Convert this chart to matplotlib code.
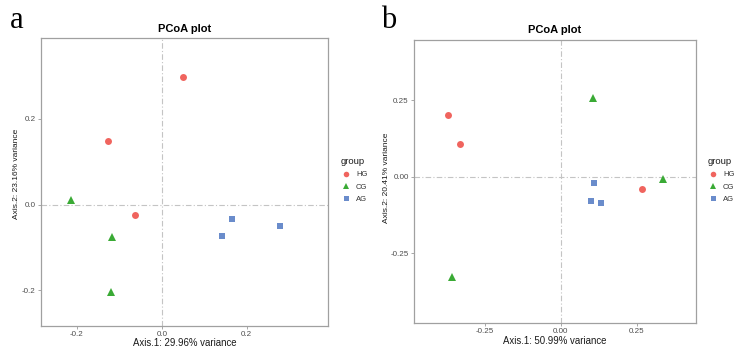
import matplotlib
matplotlib.use("Agg")
import matplotlib.pyplot as plt

plt.rcParams['font.family'] = ['Liberation Sans', 'DejaVu Sans']

groups = ["HG", "CG", "AG"]
colors = ["#F0645E", "#3AAA35", "#6A8CCB"]
markers = ["o", "^", "s"]

# Panel a
a_HG_x = [0.051, -0.127, -0.062]
a_HG_y = [0.298, 0.148, -0.024]
a_CG_x = [-0.213, -0.118, -0.119]
a_CG_y = [0.011, -0.075, -0.203]
a_AG_x = [0.165, 0.142, 0.278]
a_AG_y = [-0.033, -0.074, -0.049]

# Panel b
b_HG_x = [-0.370, -0.330, 0.268]
b_HG_y = [0.203, 0.106, -0.039]
b_CG_x = [0.105, 0.338, -0.359]
b_CG_y = [0.258, -0.008, -0.326]
b_AG_x = [0.109, 0.101, 0.132]
b_AG_y = [-0.021, -0.079, -0.084]

a_xticks = [-0.2, 0.0, 0.2]
a_xticklabels = ["-0.2", "0.0", "0.2"]
a_yticks = [-0.2, 0.0, 0.2]
a_yticklabels = ["-0.2", "0.0", "0.2"]
b_xticks = [-0.25, 0.0, 0.25]
b_xticklabels = ["-0.25", "0.00", "0.25"]
b_yticks = [-0.25, 0.0, 0.25]
b_yticklabels = ["-0.25", "0.00", "0.25"]

a_xlabel = "Axis.1: 29.96% variance"
a_ylabel = "Axis.2: 23.16% variance"
b_xlabel = "Axis.1: 50.99% variance"
b_ylabel = "Axis.2: 20.41% variance"

W, H = 746, 355
fig = plt.figure(figsize=(7.46, 3.55), dpi=100)


def panel(rect, data, xlim, ylim, xticks, xtl, yticks, ytl, xlabel, ylabel,
          letter, letter_pos, leg_anchor, xlab_y, ylab_xy, title_y):
    ax = fig.add_axes(rect)
    ax.axvline(0, color="#c4c4c4", lw=0.8, ls=(0, (5, 2, 1, 2)), zorder=1)
    ax.axhline(0, color="#c4c4c4", lw=0.8, ls=(0, (5, 2, 1, 2)), zorder=1)
    handles = []
    for (xs, ys), g, c, m in zip(data, groups, colors, markers):
        ms = 5.0 if m == "o" else (5.5 if m == "^" else 4.6)
        ax.plot(xs, ys, ls="none", marker=m, color=c, ms=ms, mew=0, zorder=3)
        lms = 4.0 if m == "o" else (4.4 if m == "^" else 3.6)
        h, = ax.plot([], [], ls="none", marker=m, color=c, ms=lms, mew=0, label=g)
        handles.append(h)
    ax.set_xlim(*xlim)
    ax.set_ylim(*ylim)
    ax.set_xticks(xticks)
    ax.set_xticklabels(xtl)
    ax.set_yticks(yticks)
    ax.set_yticklabels(ytl)
    ax.tick_params(labelsize=5.8, labelcolor="#4d4d4d", length=2, width=0.6, pad=1.5, color="#999999")
    for s in ax.spines.values():
        s.set_color("#a0a0a0")
        s.set_linewidth(0.9)
    cx = rect[0] + rect[2] / 2
    fig.text(cx, 1 - xlab_y / H, xlabel, fontsize=6.9, color="#1a1a1a", ha="center", va="center")
    fig.text(ylab_xy[0] / W, 1 - ylab_xy[1] / H, ylabel, fontsize=6.0, color="#1a1a1a",
             ha="center", va="center", rotation=90)
    fig.text(cx, 1 - title_y / H, "PCoA plot", fontsize=8, fontweight="bold",
             ha="center", va="center")
    fig.text(letter_pos[0], letter_pos[1], letter, fontsize=22, family="Liberation Serif",
             va="baseline", ha="left")
    leg = ax.legend(handles=handles, title="group", loc="upper left", bbox_to_anchor=leg_anchor,
                    frameon=False, fontsize=5.5, title_fontsize=6.8, handlelength=1.5,
                    handletextpad=0.5, labelspacing=0.65, borderaxespad=0, borderpad=0,
                    alignment="left")
    leg.get_title().set_color("#1a1a1a")
    for t in leg.get_texts():
        t.set_color("#333333")
    return ax


panel([0.0546, 0.0817, 0.3856, 0.8113],
      [(a_HG_x, a_HG_y), (a_CG_x, a_CG_y), (a_AG_x, a_AG_y)],
      (-0.2847, 0.392), (-0.283, 0.389),
      a_xticks, a_xticklabels, a_yticks, a_yticklabels,
      a_xlabel, a_ylabel, "a", (0.013, 0.922), (1.043, 0.587), 343.5, (17, 174), 28.5)

panel([0.5546, 0.0893, 0.3788, 0.7980],
      [(b_HG_x, b_HG_y), (b_CG_x, b_CG_y), (b_AG_x, b_AG_y)],
      (-0.4836, 0.446), (-0.478, 0.446),
      b_xticks, b_xticklabels, b_yticks, b_yticklabels,
      b_xlabel, b_ylabel, "b", (0.511, 0.922), (1.040, 0.587), 341.5, (386, 178), 30)

fig.savefig("out.png", dpi=100, facecolor="white")
